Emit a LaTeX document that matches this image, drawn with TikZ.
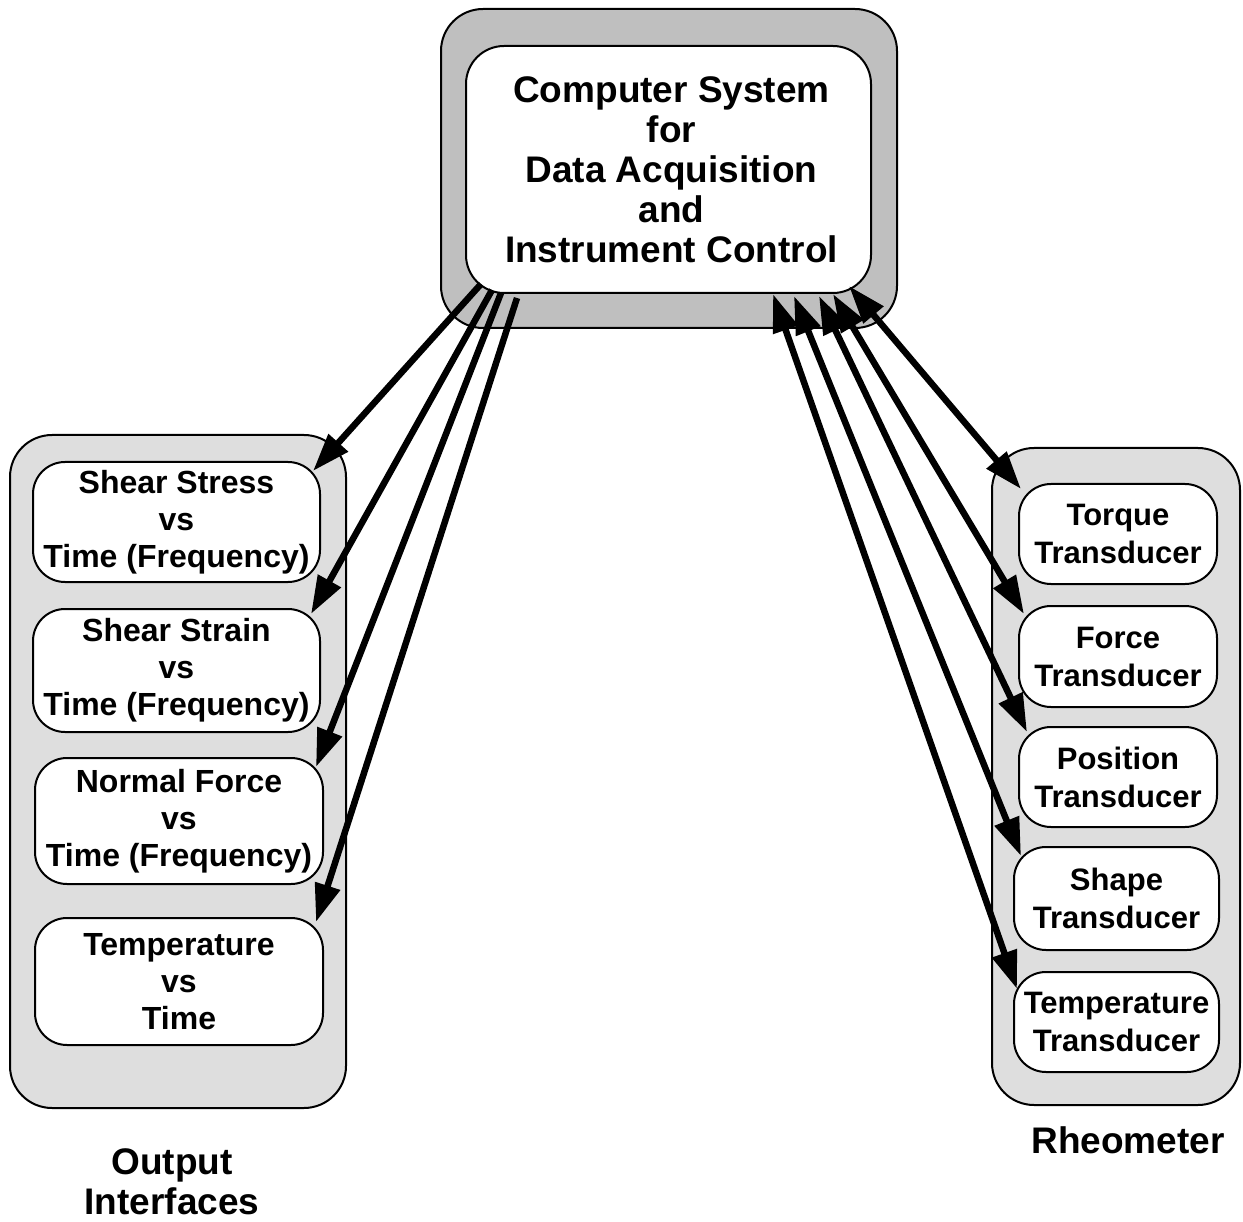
\documentclass[tikz,border=0pt]{standalone}
\usepackage{fontspec}
\setmainfont{Liberation Sans}
\usetikzlibrary{arrows.meta,positioning}
\tikzset{>=stealth}
\definecolor{darkpanel}{gray}{0.75}
\definecolor{lightpanel}{gray}{0.87}
\newcommand{\bigfont}{\fontsize{37}{40}\selectfont\bfseries}
\newcommand{\cellfont}{\fontsize{32}{37}\selectfont\bfseries}
\newcommand{\rhfont}{\fontsize{31}{38}\selectfont\bfseries}

\begin{document}
\begin{tikzpicture}[x=1pt,y=-1pt,
	panel/.style={draw,line width=2pt,rounded corners=42pt,inner sep=0pt},
	cell/.style={draw,fill=white,line width=2pt,rounded corners=32pt,align=center,inner sep=0pt},
	outarrow/.style={line width=6.5pt,-{Triangle[length=38pt,width=25pt]}},
	duplex/.style={line width=6.5pt,{Triangle[length=38pt,width=25pt]}-{Triangle[length=38pt,width=25pt]}}]
	\useasboundingbox (0,0) rectangle (1243,1222);
	
	%Computer
	\node[panel,fill=darkpanel,minimum width=456pt,minimum height=319pt] (CS) at (669,168.5) {};
	\node[cell,rounded corners=38pt,minimum width=405pt,minimum height=247pt,font=\bigfont] (CSin) at (668.5,169.5) {\hspace*{6pt}Computer System\\\hspace*{6pt}for\\\hspace*{6pt}Data Acquisition\\\hspace*{6pt}and\\\hspace*{6pt}Instrument Control};
	
	%Output interfaces
	\node[panel,fill=lightpanel,minimum width=336pt,minimum height=673pt] (OI) at (178,771.5) {};
	\node[cell,minimum width=287pt,minimum height=120pt,font=\cellfont] (stress) at (176.5,522) {Shear Stress\\vs\\Time (Frequency)};
	\node[cell,minimum width=287pt,minimum height=123pt,font=\cellfont] (strain) at (176.5,670.5) {Shear Strain\\vs\\Time (Frequency)};
	\node[cell,minimum width=288pt,minimum height=126pt,font=\cellfont] (normal) at (179,821) {Normal Force\\vs\\Time (Frequency)};
	\node[cell,minimum width=288pt,minimum height=127pt,font=\cellfont] (temp) at (179,981.5) {Temperature\\vs\\Time};
	\node[align=center,font=\bigfont] (OIlabel) at (172,1182) {Output\\Interfaces};
	
	%Rheometer
	\node[panel,fill=lightpanel,minimum width=248pt,minimum height=657pt] (RH) at (1116,776.5) {};
	\node[cell,minimum width=198pt,minimum height=100pt,font=\rhfont] (torque) at (1118,534) {Torque\\Transducer};
	\node[cell,minimum width=198pt,minimum height=101pt,font=\rhfont] (force) at (1118,656.5) {Force\\Transducer};
	\node[cell,minimum width=198pt,minimum height=100pt,font=\rhfont] (position) at (1118,777) {Position\\Transducer};
	\node[cell,minimum width=205pt,minimum height=103pt,font=\rhfont] (shape) at (1116.5,898.5) {Shape\\Transducer};
	\node[cell,minimum width=205pt,minimum height=100pt,font=\rhfont] (ttrans) at (1116.5,1022) {Temperature\\Transducer};
	\node[font=\bigfont] (RHlabel) at (1128,1140) {Rheometer};
	
	%Arrows
	\draw[outarrow] ([shift={(16,-10)}]CSin.south west) -- ([shift={(-8,10)}]stress.north east);
	\draw[outarrow] ([shift={(27,-4)}]CSin.south west) -- ([shift={(-10,6)}]strain.north east);
	\draw[outarrow] ([shift={(36,-1)}]CSin.south west) -- ([shift={(-8,10)}]normal.north east);
	\draw[outarrow] ([shift={(52,4)}]CSin.south west) -- ([shift={(-8,5)}]temp.north east);
	
	\draw[duplex] ([shift={(-23,-8)}]CSin.south east) -- ([shift={(3,6)}]torque.north west);
	\draw[duplex] ([shift={(-39,0)}]CSin.south east) -- ([shift={(6,9)}]force.north west);
	\draw[duplex] ([shift={(-53,2)}]CSin.south east) -- ([shift={(9,6)}]position.north west);
	\draw[duplex] ([shift={(-78,2)}]CSin.south east) -- ([shift={(8,10)}]shape.north west);
	\draw[duplex] ([shift={(-99,0)}]CSin.south east) -- ([shift={(4,18)}]ttrans.north west);
\end{tikzpicture}
\end{document}
